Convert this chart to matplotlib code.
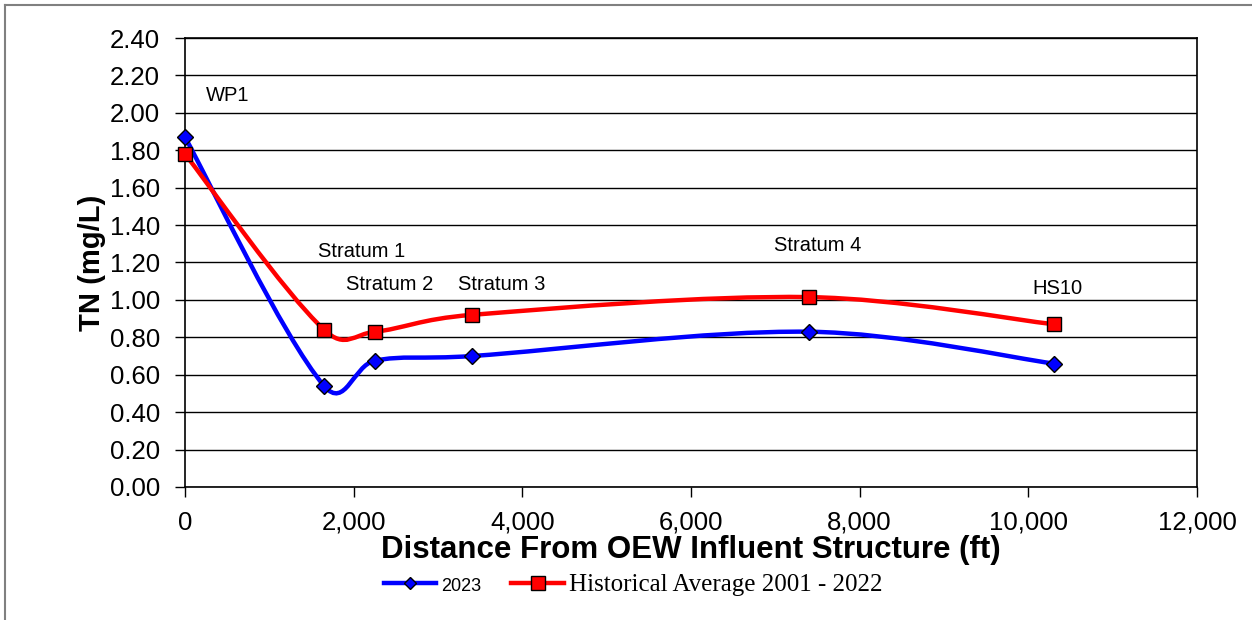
import numpy as np
import matplotlib.pyplot as plt
from matplotlib.path import Path
from matplotlib.patches import PathPatch
from matplotlib.lines import Line2D
from matplotlib.ticker import FuncFormatter, MultipleLocator

# distance from OEW influent structure (ft)
distance = [0, 1650, 2250, 3400, 7400, 10300]
tn_2023 = [1.87, 0.54, 0.675, 0.70, 0.83, 0.66]
tn_hist = [1.78, 0.84, 0.83, 0.92, 1.015, 0.87]
site_names = ['WP1', 'Stratum 1', 'Stratum 2', 'Stratum 3', 'Stratum 4', 'HS10']
label_pos = [(510, 2.09), (2100, 1.26), (2430, 1.08), (3760, 1.08), (7500, 1.29), (10340, 1.06)]

plt.rcParams['font.family'] = ['Liberation Sans', 'DejaVu Sans']


def smooth_path(ax, x, y):
    # smoothed line like Excel: bezier segments, tangents partly weighted by chord length (pixels)
    p = ax.transData.transform(np.column_stack([x, y]).astype(float))
    n = len(p)
    d = np.hypot(*np.diff(p, axis=0).T)
    verts = [p[0]]
    codes = [Path.MOVETO]
    for i in range(n - 1):
        if i > 0:
            w = 0.25 + 0.5 * d[i] / (d[i - 1] + d[i])
            t0 = (p[i + 1] - p[i - 1]) * w
        else:
            t0 = (p[i + 1] - p[i]) * 0.5
        if i + 2 < n:
            w = 0.25 + 0.5 * d[i] / (d[i] + d[i + 1])
            t1 = (p[i + 2] - p[i]) * w
        else:
            t1 = (p[i + 1] - p[i]) * 0.5
        verts += [p[i] + t0 / 3.0, p[i + 1] - t1 / 3.0, p[i + 1]]
        codes += [Path.CURVE4] * 3
    inv = ax.transData.inverted()
    return Path(inv.transform(np.array(verts)), codes)


fig = plt.figure(figsize=(12.52, 6.2), dpi=100)
ax = fig.add_axes([185 / 1252, 1 - 487 / 620, (1197 - 185) / 1252, (487 - 38) / 620])

# outer chart border
fig.add_artist(Line2D([5 / 1252, 5 / 1252], [0, 1 - 5 / 620], transform=fig.transFigure, color='#808080', lw=1.5))
fig.add_artist(Line2D([5 / 1252, 1], [1 - 5 / 620, 1 - 5 / 620], transform=fig.transFigure, color='#808080', lw=1.5))

ax.set_xlim(0, 12000)
ax.set_ylim(0, 2.4)
ax.yaxis.set_major_locator(MultipleLocator(0.2))
ax.xaxis.set_major_locator(MultipleLocator(2000))
ax.yaxis.set_major_formatter(FuncFormatter(lambda v, p: '%.2f' % v))
ax.xaxis.set_major_formatter(FuncFormatter(lambda v, p: '{:,.0f}'.format(v)))
ax.grid(axis='y', color='black', lw=1)
ax.set_axisbelow(True)
for s in ax.spines.values():
    s.set_color('black')
    s.set_linewidth(1.2)
ax.tick_params(direction='out', length=7, width=1, labelsize=18.5, colors='black')
ax.tick_params(axis='y', pad=11)
ax.tick_params(axis='x', pad=10)

for xs, ys, col in [(distance, tn_2023, 'blue'), (distance, tn_hist, 'red')]:
    ax.add_patch(PathPatch(smooth_path(ax, xs, ys), facecolor='none', edgecolor=col, lw=3.2, zorder=3))

ax.plot(distance, tn_2023, ls='none', marker='D', ms=8, mfc='blue', mec='black', mew=1, zorder=4, clip_on=False)
ax.plot(distance, tn_hist, ls='none', marker='s', ms=10.5, mfc='red', mec='black', mew=1, zorder=4, clip_on=False)

for name, (lx, ly) in zip(site_names, label_pos):
    ax.text(lx, ly, name, fontsize=14.5, ha='center', va='center')

ax.set_ylabel('TN (mg/L)', fontsize=21, fontweight='bold', labelpad=2.5)
ax.set_xlabel('Distance From OEW Influent Structure (ft)', fontsize=22.5, fontweight='bold', labelpad=0.5)

h1 = Line2D([], [], color='blue', lw=3.2, marker='D', ms=6, mfc='blue', mec='black')
h2 = Line2D([], [], color='red', lw=3.2, marker='s', ms=10, mfc='red', mec='black')
leg = fig.legend([h1, h2], ['2023', 'Historical Average 2001 - 2022'], loc='center',
                 bbox_to_anchor=(633 / 1252, 1 - 585 / 620), ncol=2, frameon=False,
                 fontsize=18, handlelength=2.1, handletextpad=0.2, columnspacing=1.2)
leg.get_texts()[0].set_fontsize(13)
leg.get_texts()[1].set_family(['Liberation Serif', 'DejaVu Serif'])

plt.savefig('out.png', dpi=100)
